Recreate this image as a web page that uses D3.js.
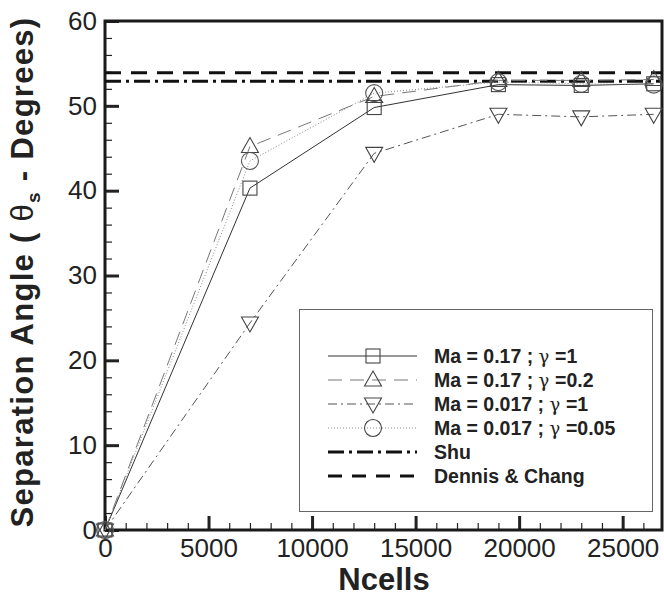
<!DOCTYPE html>
<html>
<head>
<meta charset="utf-8">
<script src="https://cdn.jsdelivr.net/npm/d3@7"></script>
<style>
  body { margin: 0; background: #fff; }
  svg { display: block; }
  text { font-family: "Liberation Sans", Arial, sans-serif; }
</style>
</head>
<body>
<div id="chart"></div>
<script>
// data
const ncells = [0, 7000, 13000, 19000, 23000, 26500]
const ma017_g1 = [0, 40.3, 49.8, 52.5, 52.4, 52.6]
const ma017_g02 = [0, 45.2, 51.1, 53.0, 53.0, 53.1]
const ma0017_g1 = [0, 24.4, 44.4, 49.0, 48.7, 49.0]
const ma0017_g005 = [0, 43.5, 51.5, 52.8, 52.6, 52.5]
const shuValue = 52.9
const dennisValue = 53.9
const xTicks = [0, 5000, 10000, 15000, 20000, 25000]
const yTicks = [0, 10, 20, 30, 40, 50, 60]

const series = [
  { name: "Ma = 0.17 ; ", g: "=1", values: ma017_g1, marker: "square", color: "#333", dash: null },
  { name: "Ma = 0.17 ; ", g: "=0.2", values: ma017_g02, marker: "triUp", color: "#777", dash: "14,8" },
  { name: "Ma = 0.017 ; ", g: "=1", values: ma0017_g1, marker: "triDown", color: "#555", dash: "9,4,2,4" },
  { name: "Ma = 0.017 ; ", g: "=0.05", values: ma0017_g005, marker: "circle", color: "#888", dash: "1,2" }
]

const W = 664, H = 596
const margin = { top: 21, right: 2, bottom: 66, left: 105 }
const width = W - margin.left - margin.right
const height = H - margin.top - margin.bottom

const svg = d3.select("#chart").append("svg")
  .attr("width", W).attr("height", H)
const g = svg.append("g")
  .attr("transform", "translate(" + margin.left + "," + margin.top + ")")

const x = d3.scaleLinear().domain([0, 26900]).range([0, width])
const y = d3.scaleLinear().domain([0, 60]).range([height, 0])

// minor ticks
g.append("g")
  .attr("transform", "translate(0," + height + ")")
  .call(d3.axisBottom(x).tickValues(d3.range(0, 26901, 1000)).tickSize(-7).tickFormat(""))
  .call(a => a.select(".domain").remove())
  .selectAll("line").attr("stroke", "#222").attr("stroke-width", 1.2)
g.append("g")
  .call(d3.axisLeft(y).tickValues(d3.range(0, 61, 2)).tickSize(-7).tickFormat(""))
  .call(a => a.select(".domain").remove())
  .selectAll("line").attr("stroke", "#222").attr("stroke-width", 1.2)

// major ticks + labels
const xAxis = g.append("g")
  .attr("transform", "translate(0," + height + ")")
  .call(d3.axisBottom(x).tickValues(xTicks).tickSize(-14).tickPadding(6).tickSizeOuter(0).tickFormat(d3.format("d")))
xAxis.selectAll("line").attr("stroke", "#222").attr("stroke-width", 3)
xAxis.selectAll("text").attr("font-size", 26).attr("fill", "#222").attr("dy", "0.8em")

const yAxis = g.append("g")
  .call(d3.axisLeft(y).tickValues(yTicks).tickSize(-14).tickPadding(8).tickSizeOuter(0))
yAxis.selectAll("line").attr("stroke", "#222").attr("stroke-width", 3)
yAxis.selectAll("text").attr("font-size", 26).attr("fill", "#222")

// frame
g.selectAll(".domain").remove()
g.append("rect")
  .attr("x", 0).attr("y", 0).attr("width", width).attr("height", height)
  .attr("fill", "none").attr("stroke", "#1a1a1a").attr("stroke-width", 3)

// reference lines
g.append("line")
  .attr("x1", 0).attr("x2", width).attr("y1", y(dennisValue)).attr("y2", y(dennisValue))
  .attr("stroke", "#111").attr("stroke-width", 3).attr("stroke-dasharray", "16,10")
g.append("line")
  .attr("x1", 0).attr("x2", width).attr("y1", y(shuValue)).attr("y2", y(shuValue))
  .attr("stroke", "#111").attr("stroke-width", 3).attr("stroke-dasharray", "16,5,3,5")

function drawMarker(sel, type, color) {
  sel.attr("fill", "none").attr("stroke", color).attr("stroke-width", 1.1)
  if (type == "square") sel.append("rect").attr("x", -7).attr("y", -7).attr("width", 14).attr("height", 14)
  if (type == "triUp") sel.append("path").attr("d", "M0,-9L8.5,6L-8.5,6Z")
  if (type == "triDown") sel.append("path").attr("d", "M0,9L8.5,-6L-8.5,-6Z")
  if (type == "circle") sel.append("circle").attr("r", 8.5)
}

const line = d3.line().x(d => x(d[0])).y(d => y(d[1]))

series.forEach(s => {
  const pts = ncells.map((n, i) => [n, s.values[i]])
  g.append("path")
    .attr("d", line(pts))
    .attr("fill", "none")
    .attr("stroke", s.color)
    .attr("stroke-width", 1)
    .attr("stroke-dasharray", s.dash)
  pts.forEach(p => {
    const m = g.append("g").attr("transform", "translate(" + x(p[0]) + "," + y(p[1]) + ")")
    drawMarker(m, s.marker, s.color == "#888" ? "#555" : "#444")
  })
})

// legend
const lg = svg.append("g")
lg.append("rect")
  .attr("x", 299.5).attr("y", 309.5).attr("width", 353).attr("height", 202)
  .attr("fill", "#fff").attr("stroke", "#666").attr("stroke-width", 1)

const rowY = d3.scaleLinear().domain([0, 5]).range([356, 476])
const legItems = series.map(s => ({ type: "series", s: s }))
  .concat([{ type: "shu", label: "Shu" }, { type: "dennis", label: "Dennis & Chang" }])

legItems.forEach((it, i) => {
  const yy = rowY(i)
  const row = lg.append("g")
  const ln = row.append("line").attr("x1", 328).attr("x2", 417).attr("y1", yy).attr("y2", yy)
  if (it.type == "series") {
    ln.attr("stroke", it.s.color).attr("stroke-width", 1).attr("stroke-dasharray", it.s.dash)
    const m = row.append("g").attr("transform", "translate(373," + yy + ")")
    drawMarker(m, it.s.marker, "#444")
    const t = row.append("text").attr("x", 434).attr("y", yy + 7)
      .attr("font-size", 19.5).attr("font-weight", "bold").attr("fill", "#222")
    t.append("tspan").text(it.s.name)
    t.append("tspan").attr("font-weight", "normal").attr("font-family", "DejaVu Serif, serif").attr("font-size", 18).text("γ ")
    t.append("tspan").text(it.s.g)
  } else {
    ln.attr("stroke", "#111").attr("stroke-width", 3)
      .attr("stroke-dasharray", it.type == "shu" ? "16,5,3,5" : "14,10")
    row.append("text").attr("x", 434).attr("y", yy + 7)
      .attr("font-size", 19.5).attr("font-weight", "bold").attr("fill", "#222")
      .text(it.label)
  }
})

// axis titles
svg.append("text")
  .attr("x", 384).attr("y", 590)
  .attr("text-anchor", "middle")
  .attr("font-size", 31).attr("font-weight", "bold").attr("fill", "#222")
  .text("Ncells")

const yt = svg.append("text")
  .attr("transform", "translate(33,272) rotate(-90)")
  .attr("text-anchor", "middle")
  .attr("letter-spacing", 1.3)
  .attr("font-size", 31).attr("font-weight", "bold").attr("fill", "#222")
yt.append("tspan").text("Separation Angle  ( ")
yt.append("tspan").attr("font-weight", "normal").text("θ")
yt.append("tspan").attr("font-size", 19).attr("dy", 7).text("s")
yt.append("tspan").attr("dy", -7).text(" - Degrees)")
</script>
</body>
</html>
